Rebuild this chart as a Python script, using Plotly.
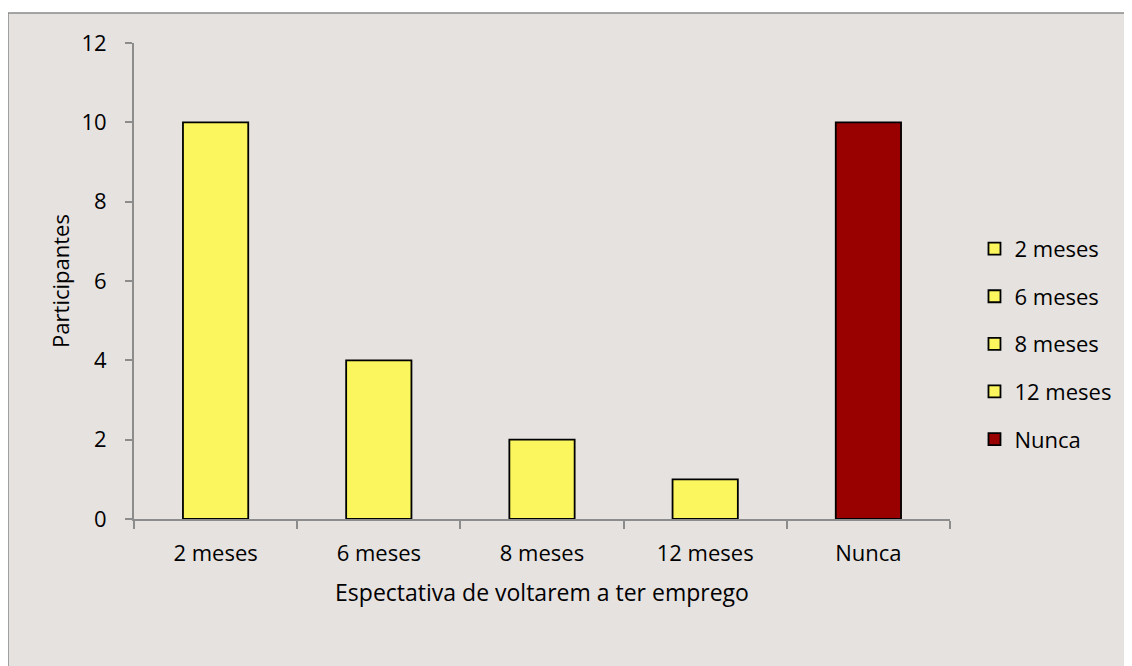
import plotly.graph_objects as go

categories = ["2 meses", "6 meses", "8 meses", "12 meses", "Nunca"]
participantes = [10, 4, 2, 1, 10]
bar_colors = ["#FBF65E", "#FBF65E", "#FBF65E", "#FBF65E", "#990000"]

bg = "#E6E2E0"
axis_grey = "#8C8C8C"
font_family = "Open Sans, Noto Sans, sans-serif"

fig = go.Figure()
for i, (cat, val, col) in enumerate(zip(categories, participantes, bar_colors)):
    fig.add_trace(go.Bar(
        x=[cat], y=[val], name=cat, legendgroup=f"g{i}",
        marker=dict(color=col, line=dict(color="#000000", width=1.8)),
        width=0.4,
    ))

# page body puts the figure 8px in, so margins are shifted back by 8
OFF = 8
L, T = 134 - OFF, 43 - OFF
R, B = 1132 - 950 + OFF, 666 - 519 + OFF
pw, ph = 1132 - L - R, 666 - T - B
fig.add_shape(type="rect", xref="paper", yref="paper", layer="below",
              x0=(0 - L) / pw, x1=(1140 - L) / pw,
              y0=(ph + T - 680) / ph, y1=(ph + T - 5) / ph,
              fillcolor=bg, line=dict(color="#8A8A8A", width=1.5))

fig.update_layout(
    width=1132, height=666,
    margin=dict(l=L, r=R, t=T, b=B),
    paper_bgcolor="white", plot_bgcolor=bg,
    barmode="overlay",
    font=dict(family=font_family, size=22, color="#000000"),
    showlegend=True,
    legend=dict(x=1.03, y=0.368, yanchor="middle", xanchor="left",
                font=dict(size=22), tracegroupgap=16, bgcolor="rgba(0,0,0,0)",
                itemclick=False),
    xaxis=dict(
        title=dict(text="Espectativa de voltarem a ter emprego", font=dict(size=23), standoff=18),
        showline=True, linecolor=axis_grey, linewidth=2,
        ticks="outside", tickson="boundaries", ticklen=8, tickcolor=axis_grey, tickwidth=2,
        tickfont=dict(size=22), ticklabelstandoff=14,
        showgrid=False, zeroline=False,
    ),
    yaxis=dict(
        title=dict(text="Participantes", font=dict(size=22), standoff=6),
        range=[0, 12], dtick=2,
        showline=True, linecolor=axis_grey, linewidth=2,
        ticks="outside", ticklen=7, tickcolor=axis_grey, tickwidth=2,
        tickfont=dict(size=22), ticklabelstandoff=14,
        showgrid=False, zeroline=False,
    ),
)

fig.write_html("out.html")
